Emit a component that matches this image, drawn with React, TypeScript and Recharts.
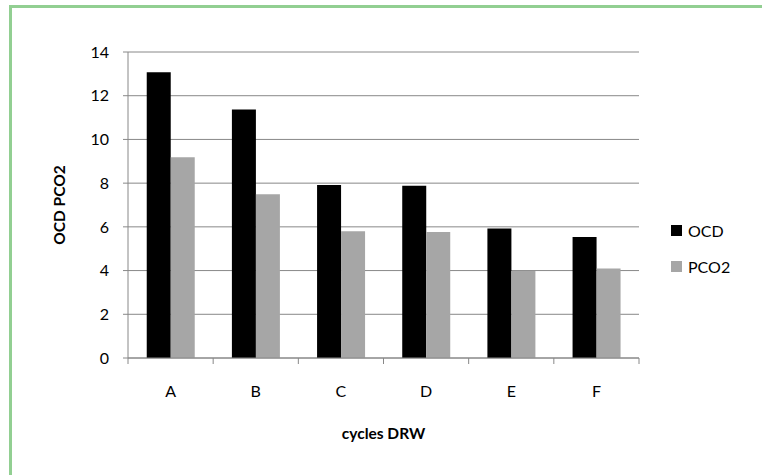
import React from 'react';
import { BarChart, Bar, XAxis, YAxis, CartesianGrid, Legend } from 'recharts';

const categories = ['A', 'B', 'C', 'D', 'E', 'F'];
const ocdValues = [13.07, 11.37, 7.91, 7.88, 5.92, 5.54];
const pco2Values = [9.19, 7.49, 5.8, 5.77, 3.98, 4.1];
const yTicks = [0, 2, 4, 6, 8, 10, 12, 14];

const data = categories.map((c, i) => ({ name: c, OCD: ocdValues[i], PCO2: pco2Values[i] }));

const FONT = 'Lato, "Open Sans", sans-serif';
const GRID = '#888888';

const CategoryTick = (props: any) => {
  const { x, y, payload, index, visibleTicksCount } = props;
  const off = payload.offset || 0;
  const isLast = index === visibleTicksCount - 1;
  return (
    <g>
      <line x1={x - off} x2={x - off} y1={y} y2={y + 6} stroke={GRID} strokeWidth={1} />
      {isLast && <line x1={x + off} x2={x + off} y1={y} y2={y + 6} stroke={GRID} strokeWidth={1} />}
      <text x={x} y={y + 39} textAnchor="middle" fontFamily={FONT} fontSize={16} fill="#000">
        {payload.value}
      </text>
    </g>
  );
};

const LegendContent = (props: any) => {
  const { payload } = props;
  return (
    <div style={{ fontFamily: FONT, fontSize: 16, color: '#000' }}>
      {(payload || []).map((p: any) => (
        <div key={p.value} style={{ display: 'flex', alignItems: 'center', height: 36 }}>
          <div style={{ width: 11, height: 11, background: p.color, marginRight: 6 }} />
          <span>{p.value}</span>
        </div>
      ))}
    </div>
  );
};

export default function App() {
  return (
    <div style={{ position: 'absolute', left: 0, top: 0, width: 762, height: 475, overflow: 'hidden', background: '#fff' }}>
      <div
        style={{
          position: 'absolute',
          left: 9,
          top: 5,
          width: 820,
          height: 520,
          borderLeft: '3px solid #92cf92',
          borderTop: '3px solid #92cf92',
        }}
      />
      <div style={{ position: 'absolute', left: 0, top: 0 }}>
        <BarChart
          width={762}
          height={475}
          data={data}
          margin={{ top: 52, right: 123, bottom: 0, left: 0 }}
          barCategoryGap="22%"
          barGap={0}
        >
          <CartesianGrid vertical={false} stroke={GRID} strokeWidth={1} />
          <XAxis
            dataKey="name"
            height={117}
            tickLine={false}
            tickSize={0}
            tickMargin={0}
            axisLine={{ stroke: GRID }}
            tick={<CategoryTick />}
            interval={0}
            label={{
              value: 'cycles DRW',
              position: 'insideBottom',
              offset: 36,
              style: { fontFamily: FONT, fontSize: 15.5, fontWeight: 'bold', fill: '#000' },
            }}
          />
          <YAxis
            width={128}
            domain={[0, 14]}
            ticks={yTicks}
            interval={0}
            tickSize={5}
            tickMargin={14}
            tickLine={{ stroke: GRID }}
            axisLine={{ stroke: GRID }}
            tick={{ fontFamily: FONT, fontSize: 16, fill: '#000' }}
            label={{
              value: 'OCD PCO2',
              angle: -90,
              position: 'insideLeft',
              offset: 59,
              textAnchor: 'middle',
              style: { textAnchor: 'middle', fontFamily: FONT, fontSize: 15.5, fontWeight: 'bold', fill: '#000' },
            }}
          />
          <Legend
            layout="horizontal"
            verticalAlign="middle"
            align="center"
            content={<LegendContent />}
            wrapperStyle={{ position: 'absolute', left: 671, top: 212, width: 90 }}
          />
          <Bar dataKey="OCD" fill="#000000" isAnimationActive={false} />
          <Bar dataKey="PCO2" fill="#a6a6a6" isAnimationActive={false} />
        </BarChart>
      </div>
    </div>
  );
}
